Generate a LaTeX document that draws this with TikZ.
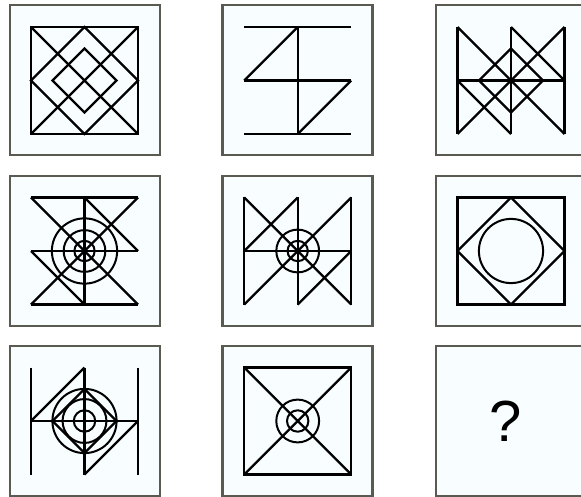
\documentclass[tikz,border=0pt]{standalone}
\usepackage{fontspec}
\setmainfont{Liberation Sans}
\definecolor{framegray}{HTML}{5A5A52}
\definecolor{panelfill}{HTML}{F8FEFF}
\tikzset{
  panel/.style={draw=framegray, line width=2.2pt, fill=panelfill},
  fig/.style={line width=2.3pt, line cap=butt, line join=miter},
  circ/.style={line width=2pt},
}
\begin{document}
\begin{tikzpicture}[x=1pt,y=-1pt]
\useasboundingbox (0,0) rectangle (581,497);
\clip (0,0) rectangle (581,497);
\fill[white] (0,0) rectangle (581,497);
% frames
\foreach \cx in {84.7,297.5,511.3}{
  \foreach \cy in {80.2,251,421}{
    \draw[panel] (\cx-75,\cy-75) rectangle (\cx+75,\cy+75);
  }
}
% Panel 1
\begin{scope}[shift={(84.5,80.5)},x=53.5pt,y=-53.5pt,fig]
  \draw (-1,-1) rectangle (1,1);
  \draw (-1,-1) -- (1,1) (1,-1) -- (-1,1);
  \draw (0,-1) -- (1,0) -- (0,1) -- (-1,0) -- cycle;
  \draw (0,-0.6) -- (0.6,0) -- (0,0.6) -- (-0.6,0) -- cycle;
\end{scope}
% Panel 2
\begin{scope}[shift={(297.7,80.5)},x=53.5pt,y=-53.5pt,fig]
  \draw (-1,-1) -- (1,-1) (-1,0) -- (1,0) (-1,1) -- (1,1);
  \draw (0,-1) -- (0,1);
  \draw (0,-1) -- (-1,0) (1,0) -- (0,1);
\end{scope}
% Panel 3
\begin{scope}[shift={(511,80.5)},x=53.5pt,y=-53.5pt,fig]
  \draw (-1,-1) -- (-1,1) (0,-1) -- (0,1) (1,-1) -- (1,1);
  \draw (-1,0) -- (1,0);
  \draw (-1,-1) -- (1,1) (1,-1) -- (-1,1);
  \draw (0,-1) -- (1,0) (-1,0) -- (0,1);
  \draw (0,-0.6) -- (0.6,0) -- (0,0.6) -- (-0.6,0) -- cycle;
\end{scope}
% Panel 4
\begin{scope}[shift={(84.5,251)},x=53.5pt,y=-53.5pt,fig]
  \draw (-1,-1) -- (1,-1) (-1,0) -- (1,0) (-1,1) -- (1,1);
  \draw (0,-1) -- (0,1);
  \draw (-1,-1) -- (1,1) (1,-1) -- (-1,1);
  \draw (0,-1) -- (1,0) (-1,0) -- (0,1);
  \draw[circ] (0,0) circle[radius=0.61] (0,0) circle[radius=0.39] (0,0) circle[radius=0.19];
\end{scope}
% Panel 5
\begin{scope}[shift={(297.7,251)},x=53.5pt,y=-53.5pt,fig]
  \draw (-1,-1) -- (-1,1) (0,-1) -- (0,1) (1,-1) -- (1,1);
  \draw (-1,0) -- (1,0);
  \draw (-1,-1) -- (1,1) (1,-1) -- (-1,1);
  \draw (0,-1) -- (-1,0) (1,0) -- (0,1);
  \draw[circ] (0,0) circle[radius=0.4] (0,0) circle[radius=0.19];
\end{scope}
% Panel 6
\begin{scope}[shift={(511,251)},x=53.5pt,y=-53.5pt,fig]
  \draw (-1,-1) rectangle (1,1);
  \draw (0,-1) -- (1,0) -- (0,1) -- (-1,0) -- cycle;
  \draw[circ] (0,0) circle[radius=0.6];
\end{scope}
% Panel 7
\begin{scope}[shift={(84.5,421)},x=53.5pt,y=-53.5pt,fig]
  \draw (-1,-1) -- (-1,1) (0,-1) -- (0,1) (1,-1) -- (1,1);
  \draw (-1,0) -- (1,0);
  \draw (0,-1) -- (-1,0) (1,0) -- (0,1);
  \draw (0,-0.6) -- (0.6,0) -- (0,0.6) -- (-0.6,0) -- cycle;
  \draw[circ] (0,0) circle[radius=0.6] (0,0) circle[radius=0.41] (0,0) circle[radius=0.2];
\end{scope}
% Panel 8
\begin{scope}[shift={(297.7,421)},x=53.5pt,y=-53.5pt,fig]
  \draw (-1,-1) rectangle (1,1);
  \draw (-1,-1) -- (1,1) (1,-1) -- (-1,1);
  \draw[circ] (0,0) circle[radius=0.4] (0,0) circle[radius=0.2];
\end{scope}
% Panel 9
\node[inner sep=0pt, font=\fontsize{58}{60}\selectfont] (q) at (506,421) {?};
\end{tikzpicture}
\end{document}
